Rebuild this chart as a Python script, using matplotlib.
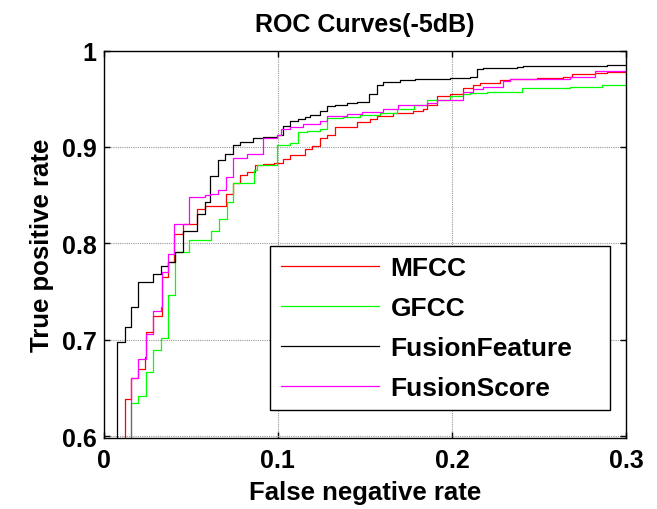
import matplotlib.pyplot as plt

plt.rcParams['font.family'] = ['Liberation Sans', 'DejaVu Sans']
plt.rcParams['font.weight'] = 'bold'

# ROC step points: at each x the curve rises to y
mfcc_x = [0.0121, 0.0121, 0.0159, 0.0197, 0.0236, 0.0245, 0.0284, 0.0332, 0.0369, 0.0402,
          0.0456, 0.0533, 0.0580, 0.0701, 0.0743, 0.0782, 0.0820, 0.0868, 0.0916, 0.0977,
          0.1030, 0.1069, 0.1155, 0.1193, 0.1241, 0.1280, 0.1328, 0.1452, 0.1529, 0.1567,
          0.1663, 0.1776, 0.1835, 0.1858, 0.1912, 0.1989, 0.2065, 0.2123, 0.2161, 0.2276,
          0.2333, 0.2487, 0.2640, 0.2688, 0.2822, 0.2889, 0.3000]
mfcc_y = [0.590, 0.639, 0.660, 0.670, 0.682, 0.708, 0.725, 0.765, 0.781, 0.810,
          0.820, 0.836, 0.839, 0.851, 0.863, 0.871, 0.874, 0.881, 0.882, 0.883,
          0.887, 0.892, 0.898, 0.901, 0.909, 0.912, 0.921, 0.926, 0.929, 0.932,
          0.935, 0.937, 0.939, 0.944, 0.953, 0.955, 0.961, 0.964, 0.966, 0.969,
          0.970, 0.972, 0.973, 0.976, 0.977, 0.978, 0.978]

gfcc_x = [0.0155, 0.0155, 0.0197, 0.0241, 0.0280, 0.0328, 0.0370, 0.0408, 0.0490, 0.0615,
          0.0663, 0.0705, 0.0740, 0.0862, 0.0878, 0.0992, 0.1069, 0.1117, 0.1165, 0.1241,
          0.1280, 0.1375, 0.1471, 0.1586, 0.1682, 0.1782, 0.1854, 0.1989, 0.2065, 0.2103,
          0.2199, 0.2400, 0.2678, 0.2860, 0.3000]
gfcc_y = [0.590, 0.634, 0.642, 0.667, 0.689, 0.702, 0.746, 0.791, 0.803, 0.813,
          0.825, 0.843, 0.863, 0.876, 0.881, 0.902, 0.904, 0.915, 0.917, 0.919,
          0.930, 0.931, 0.933, 0.935, 0.939, 0.943, 0.949, 0.953, 0.955, 0.956,
          0.957, 0.961, 0.962, 0.964, 0.964]

feat_x = [0.0073, 0.0073, 0.0121, 0.0159, 0.0195, 0.0282, 0.0331, 0.0368, 0.0408, 0.0452,
          0.0533, 0.0580, 0.0609, 0.0655, 0.0695, 0.0740, 0.0782, 0.0856, 0.0914, 0.0992,
          0.1030, 0.1069, 0.1115, 0.1155, 0.1184, 0.1241, 0.1280, 0.1328, 0.1395, 0.1452,
          0.1523, 0.1567, 0.1605, 0.1701, 0.1787, 0.1989, 0.2103, 0.2142, 0.2178, 0.2371,
          0.2408, 0.2889, 0.3000]
feat_y = [0.590, 0.698, 0.713, 0.734, 0.760, 0.768, 0.777, 0.781, 0.791, 0.813,
          0.830, 0.843, 0.870, 0.886, 0.893, 0.902, 0.905, 0.909, 0.910, 0.912,
          0.922, 0.927, 0.929, 0.931, 0.933, 0.937, 0.942, 0.944, 0.946, 0.947,
          0.955, 0.964, 0.967, 0.969, 0.970, 0.971, 0.973, 0.981, 0.982, 0.983,
          0.984, 0.985, 0.985]

score_x = [0.0159, 0.0159, 0.0197, 0.0241, 0.0282, 0.0328, 0.0334, 0.0370, 0.0402, 0.0490,
           0.0580, 0.0609, 0.0657, 0.0701, 0.0740, 0.0782, 0.0820, 0.0912, 0.0992, 0.1015,
           0.1069, 0.1145, 0.1241, 0.1280, 0.1395, 0.1481, 0.1605, 0.1691, 0.1854, 0.1912,
           0.2027, 0.2065, 0.2123, 0.2180, 0.2295, 0.2333, 0.2678, 0.2822, 0.3000]
score_y = [0.590, 0.660, 0.680, 0.706, 0.730, 0.734, 0.770, 0.789, 0.820, 0.848,
           0.850, 0.851, 0.855, 0.869, 0.888, 0.889, 0.893, 0.909, 0.912, 0.919,
           0.921, 0.924, 0.927, 0.932, 0.934, 0.936, 0.939, 0.944, 0.946, 0.949,
           0.949, 0.957, 0.960, 0.962, 0.968, 0.970, 0.973, 0.979, 0.979]

fig = plt.figure(figsize=(6.57, 5.10), dpi=100)
ax = fig.add_axes([0.158, 0.139, 0.795, 0.760])

ax.plot(mfcc_x, mfcc_y, color='#ff0000', lw=0.9, drawstyle='steps-post', label='MFCC')
ax.plot(gfcc_x, gfcc_y, color='#00ff00', lw=0.9, drawstyle='steps-post', label='GFCC')
ax.plot(feat_x, feat_y, color='black', lw=0.9, drawstyle='steps-post', label='FusionFeature')
ax.plot(score_x, score_y, color='#ff00ff', lw=0.9, drawstyle='steps-post', label='FusionScore')

ax.set_xlim(0, 0.3)
ax.set_ylim(0.598, 1.0)
ax.set_xticks([0, 0.1, 0.2, 0.3])
ax.set_xticklabels(['0', '0.1', '0.2', '0.3'])
ax.set_yticks([0.6, 0.7, 0.8, 0.9, 1.0])
ax.set_yticklabels(['0.6', '0.7', '0.8', '0.9', '1'])
ax.grid(True, color='#999999', lw=0.8, linestyle=(0, (1, 1)))
ax.tick_params(direction='in', length=4, width=1, top=True, right=True, labelsize=18)
ax.tick_params(axis='x', pad=7)
ax.tick_params(axis='y', pad=5)
for s in ax.spines.values():
    s.set_linewidth(1.0)

ax.set_title('ROC Curves(-5dB)', fontsize=18, fontweight='bold', pad=14)
ax.set_xlabel('False negative rate', fontsize=18.5, fontweight='bold', labelpad=6)
ax.set_ylabel('True positive rate', fontsize=18.5, fontweight='bold', labelpad=6)

leg = ax.legend(loc='upper left', bbox_to_anchor=(0.319, 0.072, 0.65, 0.424),
                mode='expand', borderaxespad=0, fontsize=19, handlelength=3.7,
                handletextpad=0.45, labelspacing=0.6, fancybox=False,
                framealpha=1, edgecolor='black')
leg.get_frame().set_linewidth(1.0)
for t in leg.get_texts():
    t.set_fontweight('bold')

fig.savefig('out.png', dpi=100)
